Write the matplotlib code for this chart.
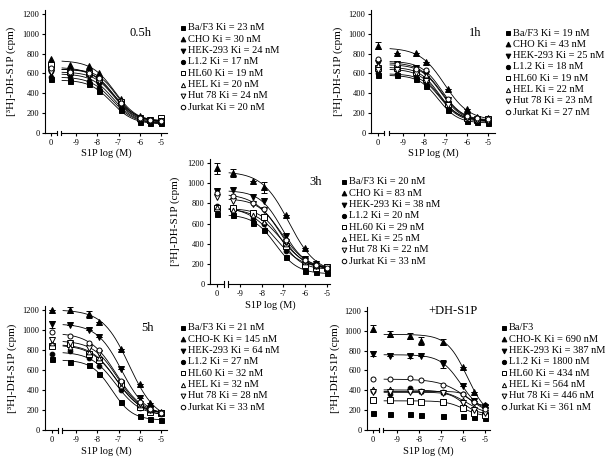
import numpy as np
import matplotlib
matplotlib.use("Agg")
import matplotlib.pyplot as plt
from matplotlib.lines import Line2D

plt.rcParams['font.family'] = ['Liberation Serif', 'DejaVu Serif']

# ---------------- data ----------------
cells = ["Ba/F3", "CHO", "HEK-293", "L1.2", "HL60", "HEL", "Hut 78", "Jurkat"]
log_conc = [-9.3, -8.4, -7.9, -6.9, -6.0, -5.5, -5.0]   # S1P log (M); first value of each series = control (0)

# values: [control, then one per log_conc]
p05_BaF3   = [540, 520, 490, 420, 230, 110, 100, 100]
p05_CHO    = [750, 690, 680, 600, 340, 170, 130, 120]
p05_HEK    = [600, 580, 560, 480, 270, 130, 110, 110]
p05_L12    = [560, 560, 520, 450, 250, 120, 110, 105]
p05_HL60   = [690, 620, 600, 540, 310, 150, 130, 150]
p05_HEL    = [640, 640, 620, 560, 330, 160, 130, 130]
p05_Hut    = [620, 600, 580, 520, 290, 140, 120, 120]
p05_Jurkat = [660, 620, 600, 550, 300, 150, 130, 125]

p1_BaF3   = [580, 580, 540, 470, 235, 125, 110, 100]
p1_CHO    = [880, 810, 810, 720, 440, 245, 160, 150]
p1_HEK    = [710, 700, 660, 590, 330, 170, 140, 130]
p1_L12    = [600, 590, 560, 500, 270, 140, 120, 120]
p1_HL60   = [660, 660, 620, 540, 290, 150, 130, 140]
p1_HEL    = [690, 680, 650, 580, 320, 160, 130, 130]
p1_Hut    = [640, 640, 600, 520, 280, 150, 130, 125]
p1_Jurkat = [750, 700, 650, 640, 340, 170, 150, 140]

p3_BaF3   = [690, 680, 610, 540, 270, 130, 115, 110]
p3_CHO    = [1150, 1100, 1020, 960, 680, 360, 210, 165]
p3_HEK    = [920, 930, 860, 820, 480, 250, 200, 165]
p3_L12    = [770, 740, 640, 600, 330, 230, 170, 160]
p3_HL60   = [750, 750, 700, 660, 380, 190, 160, 155]
p3_HEL    = [760, 730, 680, 620, 400, 220, 180, 160]
p3_Hut    = [860, 820, 790, 730, 420, 230, 180, 165]
p3_Jurkat = [900, 870, 800, 740, 440, 240, 190, 160]

p5_BaF3   = [710, 680, 650, 560, 280, 140, 110, 100]
p5_CHO    = [1200, 1200, 1160, 1080, 810, 460, 270, 180]
p5_HEK    = [1060, 1050, 1000, 930, 610, 320, 210, 170]
p5_L12    = [760, 790, 720, 640, 400, 220, 180, 160]
p5_HL60   = [840, 860, 760, 700, 460, 230, 180, 170]
p5_HEL    = [870, 830, 780, 720, 440, 250, 200, 175]
p5_Hut    = [900, 870, 820, 770, 470, 260, 200, 170]
p5_Jurkat = [980, 940, 870, 800, 490, 280, 210, 175]

pd_BaF3   = [170, 160, 165, 155, 140, 140, 135, 120]
pd_CHO    = [1020, 970, 950, 900, 890, 640, 380, 250]
pd_HEK    = [770, 750, 750, 750, 670, 440, 290, 230]
pd_L12    = [390, 360, 420, 390, 380, 360, 280, 250]
pd_HL60   = [300, 300, 290, 285, 280, 220, 170, 150]
pd_HEL    = [410, 410, 400, 390, 380, 300, 230, 190]
pd_Hut    = [380, 380, 380, 380, 370, 270, 200, 170]
pd_Jurkat = [510, 510, 520, 500, 450, 360, 280, 210]

# error bars (SEM) where visible
err_p1_CHO = [35, 0, 0, 0, 0, 0, 0, 0]
err_p3_CHO = [55, 40, 0, 55, 0, 0, 0, 0]
err_p5_CHO = [0, 30, 35, 0, 0, 0, 0, 0]
err_p5_HEK = [35, 0, 0, 0, 0, 0, 30, 0]
err_pd_CHO = [35, 30, 30, 40, 30, 0, 0, 0]
err_pd_HEK = [25, 0, 20, 0, 40, 0, 0, 0]

ki_05 = ["23", "30", "24", "17", "19", "20", "24", "20"]
ki_1  = ["19", "43", "25", "18", "19", "22", "23", "27"]
ki_3  = ["20", "83", "38", "20", "29", "25", "22", "33"]
ki_5  = ["21", "145", "64", "27", "32", "32", "28", "33"]
ki_d  = [None, "690", "387", "1800", "434", "564", "446", "361"]

yticks = [0, 200, 400, 600, 800, 1000, 1200]
xticks = [-9, -8, -7, -6, -5]

# ---------------- styles ----------------
markers = ['s', '^', 'v', 'o', 's', '^', 'v', 'o']
filled = [True, True, True, True, False, False, False, False]
msizes = [3.6, 3.8, 3.8, 3.4, 3.8, 3.4, 3.8, 3.6]

W, H = 605, 459
fig = plt.figure(figsize=(W / 100, H / 100), dpi=100)


def fx(px):
    return px / W


def fy(py):
    return 1 - py / H


def fit(yv):
    xs = np.array(log_conc)
    Y = np.array(yv, dtype=float)
    best = None
    cgrid = np.arange(-9.5, -4.0, 0.01)
    for h in np.arange(0.7, 2.51, 0.05):
        f = 1.0 / (1.0 + 10 ** ((xs[None, :] - cgrid[:, None]) * h))
        F = np.concatenate([np.ones((len(cgrid), 1)), f], axis=1)
        A1, A2 = 1 - F, F
        s11 = (A1 * A1).sum(1); s12 = (A1 * A2).sum(1); s22 = (A2 * A2).sum(1)
        r1 = (A1 * Y).sum(1); r2 = (A2 * Y).sum(1)
        det = s11 * s22 - s12 ** 2
        b = (s22 * r1 - s12 * r2) / det
        t = (s11 * r2 - s12 * r1) / det
        b = np.clip(b, 0, None)
        res = ((b[:, None] * A1 + t[:, None] * A2 - Y) ** 2).sum(1)
        i = np.argmin(res)
        if best is None or res[i] < best[0]:
            best = (res[i], b[i], t[i], cgrid[i], h)
    return best[1:]


def panel(spine_x, left_end, right_start, right_end, bottom, top, xlim, series,
          errs, title, title_xy, labels, leg, ylab_x, xlab_y, curves_for):
    ylim = (0, 1240)
    axL = fig.add_axes([fx(spine_x), fy(bottom), fx(left_end - spine_x), (bottom - top) / H])
    axR = fig.add_axes([fx(right_start), fy(bottom), fx(right_end - right_start), (bottom - top) / H])
    for ax in (axL, axR):
        ax.set_ylim(*ylim)
        ax.patch.set_alpha(0)
        for s in ('top', 'right'):
            ax.spines[s].set_visible(False)
        for s in ('left', 'bottom'):
            ax.spines[s].set_linewidth(0.8)
        ax.tick_params(labelsize=6, width=0.8, length=2.5, pad=1.5)
    axL.set_xlim(-1, 1)
    axL.set_xticks([0])
    axL.set_xticklabels(["0"])
    axL.set_yticks(yticks)
    axL.set_yticklabels([str(v) for v in yticks])
    axR.spines['left'].set_visible(False)
    axR.set_yticks([])
    axR.set_xlim(*xlim)
    axR.set_xticks(xticks)
    axR.set_xticklabels([str(v) for v in xticks])
    # break bars
    axL.plot([1, 1], [-25, 25], color='black', lw=0.8, clip_on=False)
    axR.plot([xlim[0], xlim[0]], [-25, 25], color='black', lw=0.8, clip_on=False)

    xc = np.linspace(xlim[0] + 0.05, -5.0, 200)
    for k, yv in enumerate(series):
        mfc = 'black' if filled[k] else 'white'
        e = errs.get(k)
        if e is not None:
            axL.errorbar([0], [yv[0]], yerr=[e[0]], fmt='none', ecolor='black',
                         elinewidth=0.7, capsize=2, capthick=0.7, clip_on=False)
            axR.errorbar(log_conc, yv[1:], yerr=e[1:], fmt='none', ecolor='black',
                         elinewidth=0.7, capsize=2, capthick=0.7, clip_on=False)
        if k in curves_for:
            b, t, c, h = fit(yv)
            axR.plot(xc, b + (t - b) / (1 + 10 ** ((xc - c) * h)), color='black', lw=0.6, zorder=2)
        axL.plot([0], [yv[0]], linestyle='none', marker=markers[k], ms=msizes[k],
                 mfc=mfc, mec='black', mew=0.7, clip_on=False, zorder=3)
        axR.plot(log_conc, yv[1:], linestyle='none', marker=markers[k], ms=msizes[k],
                 mfc=mfc, mec='black', mew=0.7, clip_on=False, zorder=3)

    fig.text(fx(title_xy[0]), fy(title_xy[1]), title, ha='center', va='center', fontsize=9)
    mx, tx, y0 = leg
    for k, lab in enumerate(labels):
        yy = y0 + k * 11.3
        mfc = 'black' if filled[k] else 'white'
        fig.add_artist(Line2D([fx(mx)], [fy(yy)], transform=fig.transFigure, linestyle='none',
                              marker=markers[k], ms=msizes[k] * 0.9, mfc=mfc, mec='black', mew=0.7))
        fig.text(fx(tx), fy(yy), lab, ha='left', va='center', fontsize=7.5)
    fig.text(fx(ylab_x), fy((bottom + top) / 2), "[³H]-DH-S1P (cpm)", rotation=90,
             ha='center', va='center', fontsize=8)
    fig.text(fx((spine_x + right_end) / 2), fy(xlab_y), "S1P log (M)", ha='center', va='center',
             fontsize=7.5)


def make_labels(names, kis):
    out = []
    for n, k in zip(names, kis):
        out.append(n if k is None else f"{n} Ki = {k} nM")
    return out


cells_k = ["Ba/F3", "CHO-K", "HEK-293", "L1.2", "HL60", "HEL", "Hut 78", "Jurkat"]
all8 = list(range(8))

panel(45, 57, 61, 167, 133, 10, (-9.706, -4.718),
      [p05_BaF3, p05_CHO, p05_HEK, p05_L12, p05_HL60, p05_HEL, p05_Hut, p05_Jurkat],
      {}, "0.5h", (141, 33), make_labels(cells, ki_05), (183, 188, 28), 11, 153, all8)

panel(371, 384, 389, 495, 133, 10, (-9.66, -4.67),
      [p1_BaF3, p1_CHO, p1_HEK, p1_L12, p1_HL60, p1_HEL, p1_Hut, p1_Jurkat],
      {1: err_p1_CHO}, "1h", (475, 33), make_labels(cells, ki_1), (508, 513, 33), 338, 153, all8)

panel(210, 224, 228, 330, 284, 159, (-9.55, -4.86),
      [p3_BaF3, p3_CHO, p3_HEK, p3_L12, p3_HL60, p3_HEL, p3_Hut, p3_Jurkat],
      {1: err_p3_CHO}, "3h", (316, 182), make_labels(cells, ki_3), (344, 349, 182), 175, 305, all8)

panel(45, 58, 62, 167, 430, 306, (-9.66, -4.72),
      [p5_BaF3, p5_CHO, p5_HEK, p5_L12, p5_HL60, p5_HEL, p5_Hut, p5_Jurkat],
      {1: err_p5_CHO, 2: err_p5_HEK}, "5h", (147, 328), make_labels(cells_k, ki_5), (183, 188, 328), 12, 451, all8)

panel(367, 379, 383, 490, 430, 307, (-9.64, -4.77),
      [pd_BaF3, pd_CHO, pd_HEK, pd_L12, pd_HL60, pd_HEL, pd_Hut, pd_Jurkat],
      {1: err_pd_CHO, 2: err_pd_HEK}, "+DH-S1P", (453, 311), make_labels(cells_k, ki_d), (504, 509, 328), 335, 451,
      [1, 2, 3, 4, 5, 6, 7])

fig.savefig("out.png", dpi=100)
